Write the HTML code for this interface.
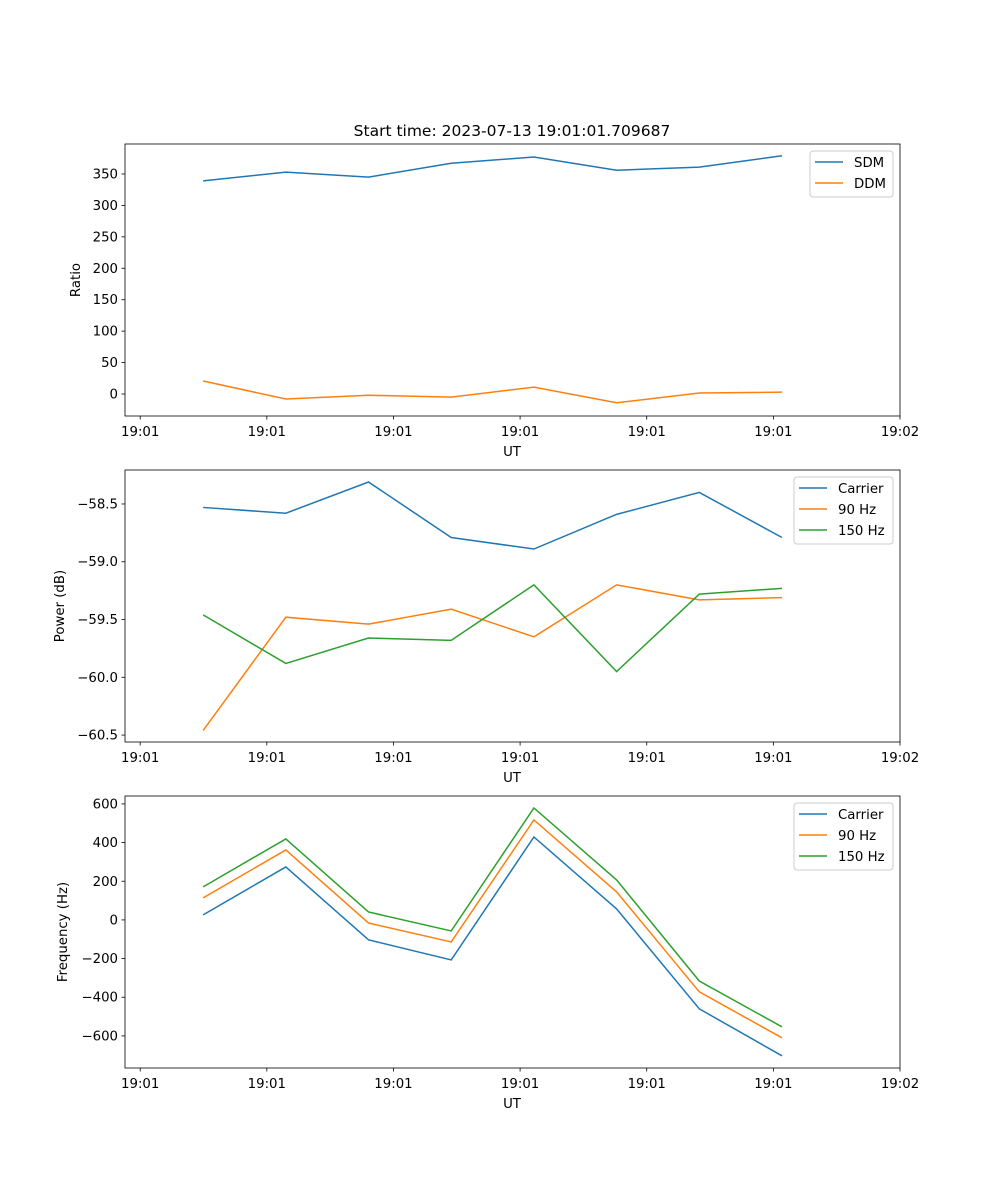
<!DOCTYPE html>
<html><head><meta charset="utf-8"><style>
body{margin:0;background:#fff;}
svg{display:block;font-family:"DejaVu Sans","Liberation Sans",sans-serif;}
</style></head><body>
<svg id="fig" width="1000" height="1200" viewBox="0 0 1000 1200">
<rect width="1000" height="1200" fill="#fff"/>
<text x="512" y="136" font-size="15.5" text-anchor="middle">Start time: 2023-07-13 19:01:01.709687</text>
</svg>
<script>
// x positions in seconds after 19:01:00
const times = [4.97, 11.5, 18.03, 24.56, 31.09, 37.62, 44.15, 50.68];
const xTickVals = [0, 10, 20, 30, 40, 50, 60];
const xTickLabels = ["19:01","19:01","19:01","19:01","19:01","19:01","19:02"];

const sdm = [339, 353, 345, 367, 377, 356, 361, 379];
const ddm = [20.7, -8, -2, -5, 11, -14, 1.6, 3];
const ratioTicks = [0, 50, 100, 150, 200, 250, 300, 350];

const powCarrier = [-58.53, -58.58, -58.31, -58.79, -58.89, -58.59, -58.40, -58.79];
const pow90 = [-60.46, -59.48, -59.54, -59.41, -59.65, -59.20, -59.33, -59.31];
const pow150 = [-59.46, -59.88, -59.66, -59.68, -59.20, -59.95, -59.28, -59.23];
const powTicks = [-58.5, -59.0, -59.5, -60.0, -60.5];

const freqCarrier = [26, 274, -103, -207, 429, 57, -460, -703];
const freq90 = [114, 362, -16, -114, 517, 145, -372, -610];
const freq150 = [171, 419, 41, -57, 579, 207, -316, -553];
const freqTicks = [-600, -400, -200, 0, 200, 400, 600];

const NS = "http://www.w3.org/2000/svg";
const svg = document.getElementById("fig");
function el(tag, attrs, parent){const e=document.createElementNS(NS,tag);for(const k in attrs)e.setAttribute(k,attrs[k]);(parent||svg).appendChild(e);return e;}
const L=125,R=900,xmin=-1.2,xmax=60;
function xs(t){return L+(t-xmin)/(xmax-xmin)*(R-L);}
const C={blue:"#1f77b4",orange:"#ff7f0e",green:"#2ca02c"};

function panel(name,top,bottom,ymin,ymax,ticks,fmt,ylabel,series,legend){
  const g=el("g",{});
  
  
  const ys=v=>bottom-(v-ymin)/(ymax-ymin)*(bottom-top);
  ticks.forEach(v=>{const y=ys(v);
    el("line",{x1:L-3.5,x2:L,y1:y,y2:y,stroke:"#000","stroke-width":0.8},g);
    const t=el("text",{x:L-7,y:y+4.5,"font-size":13.3,"text-anchor":"end"},g);t.textContent=fmt(v);
    
    
  });
  xTickVals.forEach((v,i)=>{const x=xs(v);
    el("line",{x1:x,x2:x,y1:bottom,y2:bottom+3.5,stroke:"#000","stroke-width":0.8},g);
    const t=el("text",{x:x,y:bottom+20,"font-size":13.3,"text-anchor":"middle"},g);t.textContent=xTickLabels[i];
    
    
  });
  series.forEach(s=>{
    const p=el("polyline",{points:s.v.map((v,i)=>xs(times[i])+","+ys(v)).join(" "),fill:"none",stroke:s.c,"stroke-width":1.5},g);
    
    
  });
  el("rect",{x:L,y:top,width:R-L,height:bottom-top,fill:"none",stroke:"#000","stroke-width":0.8},g);
  const xl=el("text",{x:512,y:bottom+40,"font-size":13.3,"text-anchor":"middle"},g);xl.textContent="UT";
  
  
  const ylx=legend.ylx, yc=(top+bottom)/2;
  const yl=el("text",{x:ylx,y:yc,"font-size":13.3,"text-anchor":"middle",transform:`rotate(-90 ${ylx} ${yc})`},g);yl.textContent=ylabel;
  
  
  const lg=el("g",{},g);
  
  
  el("rect",{x:legend.x,y:top+7,width:893-legend.x,height:series.length*21+4,rx:3,fill:"#fff",stroke:"#ccc","stroke-width":1},lg);
  series.forEach((s,i)=>{const y=top+18+i*21;
    el("line",{x1:legend.x+5,x2:legend.x+33,y1:y,y2:y,stroke:s.c,"stroke-width":1.5},lg);
    const t=el("text",{x:legend.x+44,y:y+5,"font-size":13.3},lg);t.textContent=s.n;
    
    
  });
}
const minus=s=>String(s).replace("-","\u2212");
panel("ratio",144,416,-35,397.7,ratioTicks,v=>minus(v),"Ratio",
  [{n:"SDM",v:sdm,c:C.blue},{n:"DDM",v:ddm,c:C.orange}],{x:810,ylx:80});
panel("power",470,742,-60.56,-58.206,powTicks,v=>minus(v.toFixed(1)),"Power (dB)",
  [{n:"Carrier",v:powCarrier,c:C.blue},{n:"90 Hz",v:pow90,c:C.orange},{n:"150 Hz",v:pow150,c:C.green}],{x:794,ylx:64});
panel("frequency",796,1068,-766,641,freqTicks,v=>minus(v),"Frequency (Hz)",
  [{n:"Carrier",v:freqCarrier,c:C.blue},{n:"90 Hz",v:freq90,c:C.orange},{n:"150 Hz",v:freq150,c:C.green}],{x:794,ylx:67});
</script>
</body></html>
